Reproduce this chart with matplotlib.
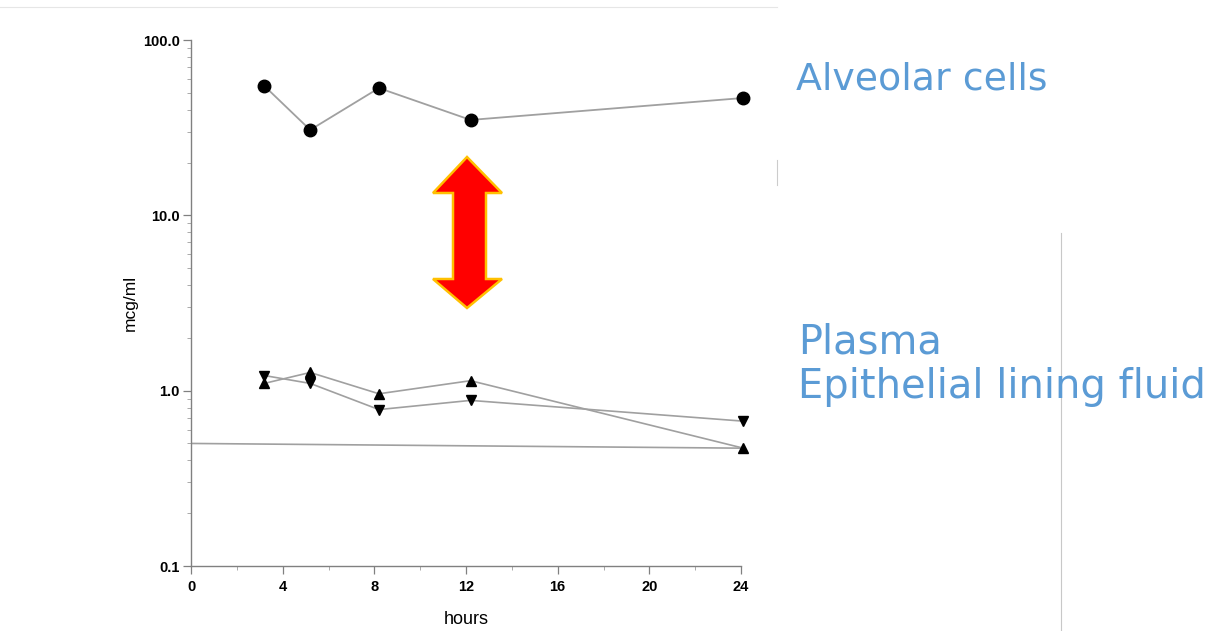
import matplotlib
matplotlib.use("Agg")
import matplotlib.pyplot as plt
from matplotlib.patches import Polygon
from matplotlib.lines import Line2D
from matplotlib.ticker import FixedLocator, NullFormatter, LogLocator

# ---- data ----
hours_alv = [3.2, 5.2, 8.2, 12.2, 24.1]
alveolar = [54.7, 30.7, 53.2, 35.0, 46.7]
hours_plasma = [3.2, 5.2, 8.2, 12.2, 24.1]
triangle_up = [1.10, 1.27, 0.96, 1.14, 0.47]
triangle_down = [1.22, 1.10, 0.78, 0.88, 0.67]
limit_x = [0, 24]
limit_y = [0.50, 0.47]
x_ticks = [0, 4, 8, 12, 16, 20, 24]
y_ticks = [0.1, 1.0, 10.0, 100.0]
y_ticklabels = ["0.1", "1.0", "10.0", "100.0"]
labels_right = ["Alveolar cells", "Plasma", "Epithelial lining fluid"]

W, H = 1218, 631
fig = plt.figure(figsize=(W / 100, H / 100), dpi=100)
fig.patch.set_facecolor("white")

def fx(px):
    return px / W

def fy(py):
    return 1 - py / H

ax = fig.add_axes([fx(191), fy(566), fx(741) - fx(191), fy(40) - fy(566)])
ax.set_yscale("log")
ax.set_xlim(0, 24)
ax.set_ylim(0.1, 100)

line_col = "#a0a0a0"
ax.plot(hours_alv, alveolar, color=line_col, lw=1.3, marker="o", ms=9,
        mfc="black", mec="black", zorder=3, clip_on=False)
ax.plot(hours_plasma, triangle_up, color=line_col, lw=1.2, marker="^", ms=6.5,
        mfc="black", mec="black", zorder=3, clip_on=False)
ax.plot(hours_plasma, triangle_down, color=line_col, lw=1.2, marker="v", ms=6.5,
        mfc="black", mec="black", zorder=3, clip_on=False)
ax.plot(limit_x, limit_y, color=line_col, lw=1.2, zorder=2)

for s in ["top", "right"]:
    ax.spines[s].set_visible(False)
for s in ["left", "bottom"]:
    ax.spines[s].set_color("#808080")
    ax.spines[s].set_linewidth(1.0)

ax.xaxis.set_major_locator(FixedLocator(x_ticks))
ax.xaxis.set_minor_locator(FixedLocator([2, 6, 10, 14, 18, 22]))
ax.set_xticklabels([str(t) for t in x_ticks])
ax.yaxis.set_major_locator(FixedLocator(y_ticks))
ax.set_yticklabels(y_ticklabels)
ax.yaxis.set_minor_locator(LogLocator(base=10, subs=[2, 3, 4, 5, 6, 7, 8, 9]))
ax.yaxis.set_minor_formatter(NullFormatter())

ax.tick_params(axis="both", which="major", length=6, width=0.9, color="#808080",
               labelsize=10.5)
ax.tick_params(axis="y", which="major", pad=2)
ax.tick_params(axis="x", which="major", pad=4)
ax.tick_params(axis="both", which="minor", length=3, width=0.7, color="#aaaaaa")
for lab in ax.get_xticklabels() + ax.get_yticklabels():
    lab.set_fontweight("bold")
    lab.set_family("Liberation Sans")

ax.set_xlabel("hours", fontsize=13, family="Liberation Sans", labelpad=12)
ax.set_ylabel("mcg/ml", fontsize=12.5, family="Liberation Sans", labelpad=4)

# ---- arrow (decoration, in figure pixels) ----
arrow_px = [(467, 157), (502, 193), (486, 193), (486, 279), (502, 279),
            (467, 308), (433, 279), (453, 279), (453, 193), (433, 193)]
arrow = Polygon([(fx(x), fy(y)) for x, y in arrow_px], closed=True,
                transform=fig.transFigure, facecolor="#ff0000",
                edgecolor="#ffc000", lw=1.8, joinstyle="miter", zorder=5)
fig.patches.append(arrow)

# ---- right-side labels ----
blue = "#5b9bd5"
fs = 28.8
fig.text(fx(796), fy(89), labels_right[0], color=blue, fontsize=27.3,
         family="DejaVu Sans", va="baseline", ha="left")
fig.text(fx(798), fy(353), labels_right[1], color=blue, fontsize=fs,
         family="DejaVu Sans", va="baseline", ha="left")
fig.text(fx(798), fy(398), labels_right[2], color=blue, fontsize=fs,
         family="DejaVu Sans", va="baseline", ha="left")

# ---- faint slide artifacts ----
fig.add_artist(Line2D([fx(0), fx(777)], [fy(7), fy(7)], color="#e6e6e6", lw=0.8,
                      transform=fig.transFigure))
fig.add_artist(Line2D([fx(777), fx(777)], [fy(160), fy(185)], color="#cccccc", lw=0.8,
                      transform=fig.transFigure))
fig.add_artist(Line2D([fx(1061), fx(1061)], [fy(233), fy(631)], color="#c8c8c8", lw=0.8,
                      transform=fig.transFigure))

fig.savefig("out.png", dpi=100, facecolor="white")
